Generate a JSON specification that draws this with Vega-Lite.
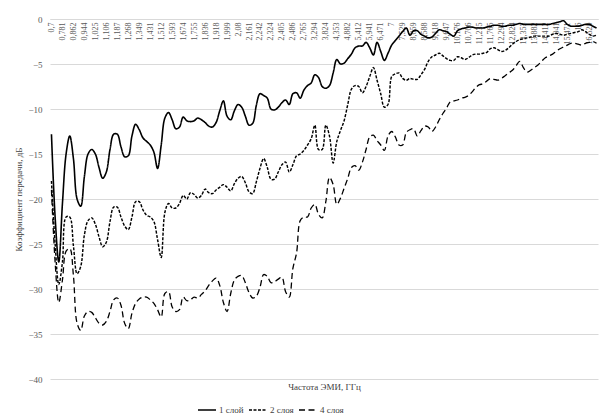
{
"$schema": "https://vega.github.io/schema/vega-lite/v6.json",
"width": 548, "height": 360,
"autosize": {"type": "none"},
"padding": {"left": 50, "top": 19, "right": 9, "bottom": 38},
"background": "white",
"config": {"view": {"stroke": null}, "font": "Liberation Serif"},
"data": {"values": [
{"f":"0,7","1 слой":-12.8,"2 слоя":-18.0,"4 слоя":-19.0},
{"f":"0,727","1 слой":-22.0,"2 слоя":-25.0,"4 слоя":-27.0},
{"f":"0,754","1 слой":-27.0,"2 слоя":-29.5,"4 слоя":-31.5},
{"f":"0,781","1 слой":-20.5,"2 слоя":-27.0,"4 слоя":-29.0},
{"f":"0,808","1 слой":-15.0,"2 слоя":-22.0,"4 слоя":-25.8},
{"f":"0,835","1 слой":-13.0,"2 слоя":-22.0,"4 слоя":-25.5},
{"f":"0,862","1 слой":-15.5,"2 слоя":-25.2,"4 слоя":-28.5},
{"f":"0,889","1 слой":-20.0,"2 слоя":-28.3,"4 слоя":-33.8},
{"f":"0,917","1 слой":-20.8,"2 слоя":-27.5,"4 слоя":-34.6},
{"f":"0,944","1 слой":-17.5,"2 слоя":-24.0,"4 слоя":-33.0},
{"f":"0,971","1 слой":-15.0,"2 слоя":-22.4,"4 слоя":-32.5},
{"f":"0,998","1 слой":-14.5,"2 слоя":-22.1,"4 слоя":-32.6},
{"f":"1,025","1 слой":-15.0,"2 слоя":-22.8,"4 слоя":-33.2},
{"f":"1,052","1 слой":-16.5,"2 слоя":-24.2,"4 слоя":-33.8},
{"f":"1,079","1 слой":-17.7,"2 слоя":-25.3,"4 слоя":-34.0},
{"f":"1,106","1 слой":-17.0,"2 слоя":-24.8,"4 слоя":-33.6},
{"f":"1,133","1 слой":-14.5,"2 слоя":-22.5,"4 слоя":-32.5},
{"f":"1,16","1 слой":-12.8,"2 слоя":-20.9,"4 слоя":-31.2},
{"f":"1,187","1 слой":-12.8,"2 слоя":-20.9,"4 слоя":-31.0},
{"f":"1,214","1 слой":-14.2,"2 слоя":-22.0,"4 слоя":-31.8},
{"f":"1,241","1 слой":-15.3,"2 слоя":-23.0,"4 слоя":-33.8},
{"f":"1,268","1 слой":-15.2,"2 слоя":-23.4,"4 слоя":-34.4},
{"f":"1,295","1 слой":-13.0,"2 слоя":-22.0,"4 слоя":-32.7},
{"f":"1,322","1 слой":-11.7,"2 слоя":-20.3,"4 слоя":-31.6},
{"f":"1,349","1 слой":-12.3,"2 слоя":-20.3,"4 слоя":-31.1},
{"f":"1,376","1 слой":-13.2,"2 слоя":-21.2,"4 слоя":-30.9},
{"f":"1,404","1 слой":-13.6,"2 слоя":-21.8,"4 слоя":-30.9},
{"f":"1,431","1 слой":-14.0,"2 слоя":-22.0,"4 слоя":-31.2},
{"f":"1,458","1 слой":-14.8,"2 слоя":-22.5,"4 слоя":-31.6},
{"f":"1,485","1 слой":-16.6,"2 слоя":-24.5,"4 слоя":-32.3},
{"f":"1,512","1 слой":-14.0,"2 слоя":-26.5,"4 слоя":-33.1},
{"f":"1,539","1 слой":-11.0,"2 слоя":-21.5,"4 слоя":-30.5},
{"f":"1,566","1 слой":-10.4,"2 слоя":-20.5,"4 слоя":-30.3},
{"f":"1,593","1 слой":-11.2,"2 слоя":-21.0,"4 слоя":-32.0},
{"f":"1,62","1 слой":-12.2,"2 слоя":-21.0,"4 слоя":-32.5},
{"f":"1,647","1 слой":-12.0,"2 слоя":-20.5,"4 слоя":-32.3},
{"f":"1,674","1 слой":-10.9,"2 слоя":-19.6,"4 слоя":-30.9},
{"f":"1,701","1 слой":-11.3,"2 слоя":-20.0,"4 слоя":-31.3},
{"f":"1,728","1 слой":-11.4,"2 слоя":-19.3,"4 слоя":-31.2},
{"f":"1,755","1 слой":-11.3,"2 слоя":-19.5,"4 слоя":-30.9},
{"f":"1,782","1 слой":-11.0,"2 слоя":-19.9,"4 слоя":-31.0},
{"f":"1,809","1 слой":-11.2,"2 слоя":-19.6,"4 слоя":-30.6},
{"f":"1,836","1 слой":-11.5,"2 слоя":-18.9,"4 слоя":-30.2},
{"f":"1,863","1 слой":-11.9,"2 слоя":-19.3,"4 слоя":-29.6},
{"f":"1,891","1 слой":-12.0,"2 слоя":-19.4,"4 слоя":-29.1},
{"f":"1,918","1 слой":-11.5,"2 слоя":-19.0,"4 слоя":-28.8},
{"f":"1,945","1 слой":-10.2,"2 слоя":-18.7,"4 слоя":-29.6},
{"f":"1,972","1 слой":-9.1,"2 слоя":-18.4,"4 слоя":-31.5},
{"f":"1,999","1 слой":-10.8,"2 слоя":-18.7,"4 слоя":-32.5},
{"f":"2,026","1 слой":-11.2,"2 слоя":-19.1,"4 слоя":-30.5},
{"f":"2,053","1 слой":-10.2,"2 слоя":-18.3,"4 слоя":-29.0},
{"f":"2,08","1 слой":-9.5,"2 слоя":-17.7,"4 слоя":-28.6},
{"f":"2,107","1 слой":-9.8,"2 слоя":-17.5,"4 слоя":-28.5},
{"f":"2,134","1 слой":-10.8,"2 слоя":-18.2,"4 слоя":-29.3},
{"f":"2,161","1 слой":-11.8,"2 слоя":-19.2,"4 слоя":-30.4},
{"f":"2,188","1 слой":-11.6,"2 слоя":-19.4,"4 слоя":-31.0},
{"f":"2,215","1 слой":-9.6,"2 слоя":-18.1,"4 слоя":-30.8},
{"f":"2,242","1 слой":-8.3,"2 слоя":-16.6,"4 слоя":-29.8},
{"f":"2,269","1 слой":-8.5,"2 слоя":-15.5,"4 слоя":-28.4},
{"f":"2,297","1 слой":-8.8,"2 слоя":-16.5,"4 слоя":-28.6},
{"f":"2,324","1 слой":-10.0,"2 слоя":-17.8,"4 слоя":-29.3},
{"f":"2,351","1 слой":-10.1,"2 слоя":-17.8,"4 слоя":-29.2},
{"f":"2,378","1 слой":-9.8,"2 слоя":-17.0,"4 слоя":-28.9},
{"f":"2,405","1 слой":-9.3,"2 слоя":-16.2,"4 слоя":-28.7},
{"f":"2,432","1 слой":-9.0,"2 слоя":-15.9,"4 слоя":-30.3},
{"f":"2,459","1 слой":-9.5,"2 слоя":-17.0,"4 слоя":-30.9},
{"f":"2,486","1 слой":-8.3,"2 слоя":-16.2,"4 слоя":-27.7},
{"f":"2,579","1 слой":-8.2,"2 слоя":-15.2,"4 слоя":-26.0},
{"f":"2,672","1 слой":-8.8,"2 слоя":-15.0,"4 слоя":-22.4},
{"f":"2,765","1 слой":-7.9,"2 слоя":-14.6,"4 слоя":-22.0},
{"f":"2,941","1 слой":-7.4,"2 слоя":-14.0,"4 слоя":-22.0},
{"f":"3,118","1 слой":-7.1,"2 слоя":-13.3,"4 слоя":-21.0},
{"f":"3,294","1 слой":-6.2,"2 слоя":-11.8,"4 слоя":-20.6},
{"f":"3,471","1 слой":-6.5,"2 слоя":-14.5,"4 слоя":-21.7},
{"f":"3,647","1 слой":-7.5,"2 слоя":-14.5,"4 слоя":-22.1},
{"f":"3,824","1 слой":-7.7,"2 слоя":-11.8,"4 слоя":-20.3},
{"f":"4","1 слой":-7.4,"2 слоя":-13.0,"4 слоя":-17.6},
{"f":"4,176","1 слой":-6.0,"2 слоя":-16.0,"4 слоя":-18.4},
{"f":"4,353","1 слой":-4.5,"2 слоя":-13.6,"4 слоя":-20.6},
{"f":"4,529","1 слой":-5.0,"2 слоя":-12.4,"4 слоя":-19.9},
{"f":"4,706","1 слой":-4.9,"2 слоя":-11.3,"4 слоя":-18.8},
{"f":"4,882","1 слой":-4.4,"2 слоя":-9.5,"4 слоя":-17.7},
{"f":"5,059","1 слой":-3.9,"2 слоя":-7.8,"4 слоя":-16.5},
{"f":"5,235","1 слой":-3.2,"2 слоя":-7.4,"4 слоя":-16.3},
{"f":"5,412","1 слой":-3.0,"2 слоя":-7.5,"4 слоя":-16.8},
{"f":"5,588","1 слой":-3.0,"2 слоя":-8.2,"4 слоя":-15.9},
{"f":"5,765","1 слой":-2.6,"2 слоя":-7.5,"4 слоя":-14.5},
{"f":"5,941","1 слой":-3.2,"2 слоя":-6.4,"4 слоя":-13.1},
{"f":"6,118","1 слой":-4.0,"2 слоя":-5.4,"4 слоя":-12.9},
{"f":"6,294","1 слой":-2.6,"2 слоя":-6.8,"4 слоя":-13.5},
{"f":"6,471","1 слой":-3.6,"2 слоя":-8.3,"4 слоя":-14.0},
{"f":"6,647","1 слой":-4.6,"2 слоя":-9.8,"4 слоя":-14.6},
{"f":"6,824","1 слой":-3.8,"2 слоя":-9.5,"4 слоя":-13.0},
{"f":"7","1 слой":-2.9,"2 слоя":-6.4,"4 слоя":-12.5},
{"f":"7,176","1 слой":-2.4,"2 слоя":-6.1,"4 слоя":-13.1},
{"f":"7,353","1 слой":-1.9,"2 слоя":-6.0,"4 слоя":-14.0},
{"f":"7,529","1 слой":-1.4,"2 слоя":-6.6,"4 слоя":-14.0},
{"f":"7,706","1 слой":-1.0,"2 слоя":-6.8,"4 слоя":-12.6},
{"f":"7,882","1 слой":-1.8,"2 слоя":-6.6,"4 слоя":-12.3},
{"f":"8,059","1 слой":-1.3,"2 слоя":-6.7,"4 слоя":-12.2},
{"f":"8,235","1 слой":-1.3,"2 слоя":-6.7,"4 слоя":-13.0},
{"f":"8,412","1 слой":-1.7,"2 слоя":-6.2,"4 слоя":-12.4},
{"f":"8,588","1 слой":-1.9,"2 слоя":-5.6,"4 слоя":-11.9},
{"f":"8,765","1 слой":-2.1,"2 слоя":-4.7,"4 слоя":-12.0},
{"f":"8,941","1 слой":-2.0,"2 слоя":-4.2,"4 слоя":-12.5},
{"f":"9,118","1 слой":-1.6,"2 слоя":-4.0,"4 слоя":-12.0},
{"f":"9,294","1 слой":-1.2,"2 слоя":-3.8,"4 слоя":-11.2},
{"f":"9,471","1 слой":-1.3,"2 слоя":-4.1,"4 слоя":-10.5},
{"f":"9,647","1 слой":-1.4,"2 слоя":-4.4,"4 слоя":-9.9},
{"f":"9,824","1 слой":-1.7,"2 слоя":-4.6,"4 слоя":-9.2},
{"f":"10","1 слой":-1.9,"2 слоя":-4.6,"4 слоя":-9.1},
{"f":"10,176","1 слой":-1.3,"2 слоя":-4.2,"4 слоя":-9.0},
{"f":"10,353","1 слой":-1.1,"2 слоя":-4.3,"4 слоя":-8.8},
{"f":"10,529","1 слой":-1.0,"2 слоя":-4.5,"4 слоя":-8.7},
{"f":"10,706","1 слой":-0.9,"2 слоя":-4.3,"4 слоя":-8.5},
{"f":"10,882","1 слой":-0.9,"2 слоя":-4.0,"4 слоя":-8.1},
{"f":"11,059","1 слой":-1.0,"2 слоя":-3.9,"4 слоя":-7.6},
{"f":"11,235","1 слой":-1.0,"2 слоя":-3.9,"4 слоя":-7.3},
{"f":"11,412","1 слой":-1.0,"2 слоя":-3.8,"4 слоя":-7.2},
{"f":"11,588","1 слой":-0.9,"2 слоя":-3.7,"4 слоя":-6.9},
{"f":"11,765","1 слой":-0.8,"2 слоя":-3.3,"4 слоя":-6.6},
{"f":"11,941","1 слой":-0.7,"2 слоя":-3.2,"4 слоя":-6.7},
{"f":"12,118","1 слой":-0.7,"2 слоя":-3.4,"4 слоя":-6.8},
{"f":"12,294","1 слой":-0.8,"2 слоя":-3.6,"4 слоя":-6.6},
{"f":"12,471","1 слой":-0.8,"2 слоя":-3.5,"4 слоя":-6.3},
{"f":"12,647","1 слой":-0.7,"2 слоя":-3.2,"4 слоя":-6.0},
{"f":"12,824","1 слой":-0.7,"2 слоя":-2.8,"4 слоя":-5.7},
{"f":"13","1 слой":-0.6,"2 слоя":-2.5,"4 слоя":-5.2},
{"f":"13,176","1 слой":-0.5,"2 слоя":-2.3,"4 слоя":-4.7},
{"f":"13,353","1 слой":-0.6,"2 слоя":-2.2,"4 слоя":-5.4},
{"f":"13,529","1 слой":-0.6,"2 слоя":-2.1,"4 слоя":-5.9},
{"f":"13,706","1 слой":-0.6,"2 слоя":-2.0,"4 слоя":-5.7},
{"f":"13,882","1 слой":-0.6,"2 слоя":-1.9,"4 слоя":-5.4},
{"f":"14,059","1 слой":-0.6,"2 слоя":-1.9,"4 слоя":-5.1},
{"f":"14,235","1 слой":-0.6,"2 слоя":-1.9,"4 слоя":-4.7},
{"f":"14,412","1 слой":-0.6,"2 слоя":-1.9,"4 слоя":-4.3},
{"f":"14,588","1 слой":-0.6,"2 слоя":-1.9,"4 слоя":-4.1},
{"f":"14,765","1 слой":-0.5,"2 слоя":-1.7,"4 слоя":-3.9},
{"f":"14,941","1 слой":-0.4,"2 слоя":-1.6,"4 слоя":-3.6},
{"f":"15,118","1 слой":-0.3,"2 слоя":-1.7,"4 слоя":-3.3},
{"f":"15,294","1 слой":-0.2,"2 слоя":-1.8,"4 слоя":-3.1},
{"f":"15,471","1 слой":-0.6,"2 слоя":-1.7,"4 слоя":-2.9},
{"f":"15,647","1 слой":-0.8,"2 слоя":-1.6,"4 слоя":-2.7},
{"f":"15,824","1 слой":-0.8,"2 слоя":-1.5,"4 слоя":-2.7},
{"f":"16","1 слой":-0.8,"2 слоя":-1.4,"4 слоя":-2.8},
{"f":"16,176","1 слой":-0.7,"2 слоя":-1.2,"4 слоя":-2.9},
{"f":"16,353","1 слой":-0.6,"2 слоя":-1.4,"4 слоя":-2.7},
{"f":"16,529","1 слой":-0.6,"2 слоя":-1.7,"4 слоя":-2.6},
{"f":"16,706","1 слой":-0.8,"2 слоя":-1.9,"4 слоя":-2.5},
{"f":"16,882","1 слой":-1.0,"2 слоя":-1.8,"4 слоя":-2.7}
]},
"transform": [{"fold": ["1 слой", "2 слоя", "4 слоя"], "as": ["series", "value"]}],
"mark": {"type": "line", "interpolate": "catmull-rom", "color": "#000000"},
"encoding": {
  "x": {"field": "f", "type": "ordinal", "sort": null,
    "scale": {"type": "point", "padding": 0.4},
    "axis": {"orient": "bottom", "offset": -360,
      "values": ["0,7","0,781","0,862","0,944","1,025","1,106","1,187","1,268","1,349","1,431","1,512","1,593","1,674","1,755","1,836","1,918","1,999","2,08","2,161","2,242","2,324","2,405","2,486","2,765","3,294","3,824","4,353","4,882","5,412","5,941","6,471","7","7,529","8,059","8,588","9,118","9,647","10,176","10,706","11,235","11,765","12,294","12,824","13,353","13,882","14,412","14,941","15,471","16","16,529"],
      "labelAngle": -90, "labelFont": "Liberation Serif", "labelFontSize": 8, "labelColor": "#595959",
      "labelPadding": 3, "labelOverlap": false, "ticks": false, "domainColor": "#d9d9d9",
      "title": "Частота ЭМИ, ГГц", "titleY": 367, "titleBaseline": "middle", "titleFont": "Liberation Serif",
      "titleFontSize": 9, "titleFontWeight": "normal", "titleColor": "#404040"}},
  "y": {"field": "value", "type": "quantitative",
    "scale": {"domain": [-40, 0], "nice": false},
    "axis": {"values": [-40, -35, -30, -25, -20, -15, -10, -5, 0], "grid": true, "gridColor": "#d9d9d9",
      "domain": false, "ticks": false, "labelPadding": 8, "labelFont": "Liberation Serif", "labelFontSize": 9,
      "labelColor": "#595959", "title": "Коэффициент передачи, дБ", "titleFont": "Liberation Serif",
      "titleFontSize": 9, "titleFontWeight": "normal", "titleColor": "#404040", "titlePadding": 4}},
  "strokeDash": {"field": "series", "type": "nominal",
    "scale": {"domain": ["1 слой", "2 слоя", "4 слоя"], "range": [[1, 0], [3, 1.5], [6, 3.5]]},
    "legend": {"title": null, "orient": "none", "legendX": 147, "legendY": 381, "direction": "horizontal",
      "symbolType": "stroke", "symbolSize": 324, "symbolStrokeColor": "#000000",
      "labelFont": "Liberation Serif", "labelFontSize": 9, "labelColor": "#404040", "columnPadding": 2, "labelOffset": 2}},
  "strokeWidth": {"field": "series", "type": "nominal",
    "scale": {"domain": ["1 слой", "2 слоя", "4 слоя"], "range": [1.6, 1.3, 3.0]},
    "legend": {"title": null, "orient": "none", "legendX": 147, "legendY": 381, "direction": "horizontal",
      "symbolType": "stroke", "symbolSize": 324, "symbolStrokeColor": "#000000",
      "labelFont": "Liberation Serif", "labelFontSize": 9, "labelColor": "#404040", "columnPadding": 2, "labelOffset": 2}}
}
}
